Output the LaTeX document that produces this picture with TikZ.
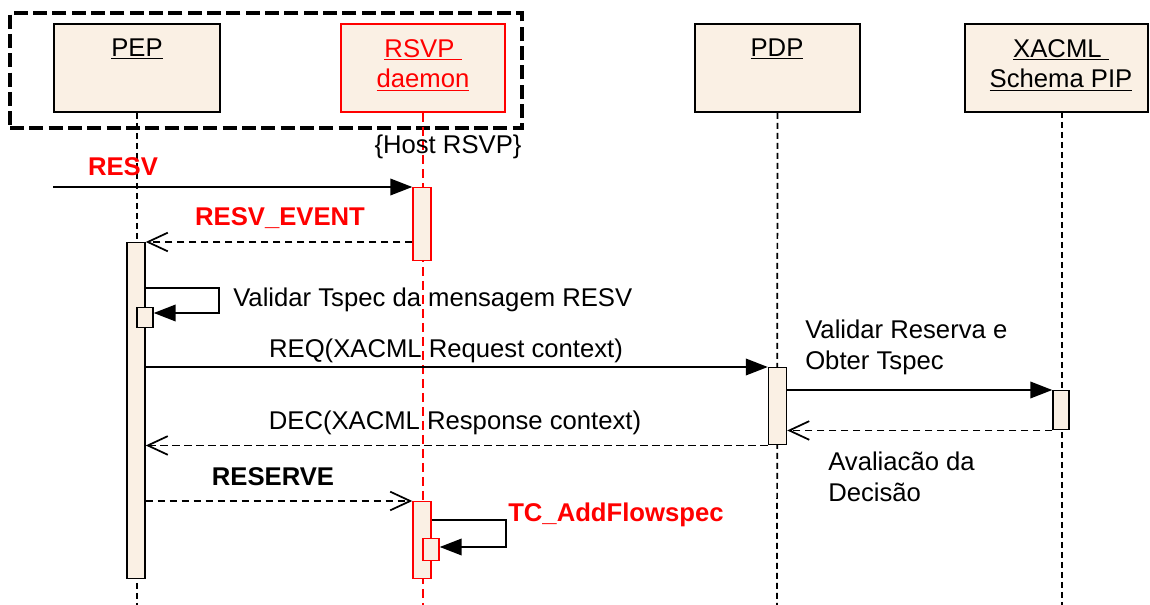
\documentclass[tikz,border=0pt]{standalone}
\usepackage{fontspec}
\setmainfont{Liberation Sans}
\usetikzlibrary{arrows.meta}
\definecolor{beige}{RGB}{250,240,228}
\definecolor{rred}{RGB}{255,0,0}
\tikzset{
  txt/.style={font=\fontsize{19.25pt}{23pt}\selectfont, inner sep=0pt},
  objbox/.style={draw=black, fill=beige, line width=1.4pt, minimum height=66pt, inner sep=0pt},
  redbox/.style={objbox, draw=rred},
  groupbox/.style={draw=black, line width=3pt, dash pattern=on 10.5pt off 4pt, minimum width=384pt, minimum height=86.25pt, inner sep=0pt},
  act/.style={draw=black, fill=beige, line width=1.1pt, minimum width=13.5pt, anchor=north, inner sep=0pt},
  redact/.style={act, draw=rred},
  lifeline/.style={draw=black, line width=1.3pt, dash pattern=on 4.5pt off 3pt},
  redlifeline/.style={draw=rred, line width=1.3pt, dash pattern=on 7pt off 3.5pt},
  callmsg/.style={draw=black, line width=1.2pt, -{Triangle[length=16.5pt,width=12.5pt]}},
  retmsg/.style={draw=black, line width=1.3pt, dash pattern=on 5.5pt off 3.5pt, -{Straight Barb[length=15pt,width=14pt]}},
  redlbl/.style={txt, text=rred, font=\fontsize{19.25pt}{23pt}\selectfont\bfseries},
}
\begin{document}
\begin{tikzpicture}[x=0.75pt,y=-0.75pt]
\useasboundingbox (0,0) rectangle (1150,605);

% object boxes
\node[objbox, minimum width=124.5pt] (pep) at (137,68) {};
\node[redbox, minimum width=123pt] (rsvp) at (423,68) {};
\node[objbox, minimum width=123.75pt] (pdp) at (777.5,68) {};
\node[objbox, minimum width=137.25pt] (pip) at (1056.5,68) {};
\node[groupbox] (host) at (266,70.5) {};

\node[txt] (peplbl) at (137,49) {\underline{PEP}};
\node[txt, text=rred, align=center] (rsvplbl) at (423,65) {\underline{RSVP\ }\\\underline{daemon}};
\node[txt] (pdplbl) at (777,49) {\underline{PDP}};
\node[txt, align=center] (piplbl) at (1061,65) {\underline{XACML\ }\\\underline{Schema PIP}};

% lifeline ends
\coordinate (pepend) at (137,605);
\coordinate (rsvpend) at (423,605);
\coordinate (pdpend) at (777,605);
\coordinate (piptop) at (1062,112);
\coordinate (pipend) at (1062,605);

\draw[lifeline] (pep.south) -- (pepend);
\draw[redlifeline] (rsvp.south) -- (rsvpend);
\draw[lifeline] (pdp.south) -- (pdpend);
\draw[lifeline] (piptop) -- (pipend);

\node[txt] (hostlbl) at (448,147) {\{Host RSVP\}};

% activations
\node[redact, minimum height=54.75pt] (ra1) at (422,187) {};
\node[act, minimum height=252pt] (pa1) at (136,242) {};
\node[act, minimum width=12pt, minimum height=15pt] (pn1) at (145,307) {};
\node[act, minimum height=57.75pt] (da1) at (777.5,367) {};
\node[act, minimum width=12pt, minimum height=29.25pt] (xa1) at (1061,390) {};
\node[redact, minimum height=57.75pt] (ra2) at (422,501) {};
\node[redact, minimum width=12pt, minimum height=16.5pt] (rn2) at (431,538) {};

% RESV
\coordinate (resvstart) at (53,187);
\draw[callmsg] (resvstart) -- (ra1.north west);
\node[redlbl] (resvlbl) at (123,167) {RESV};

% RESV_EVENT
\draw[retmsg] (ra1.west |- pa1.north) -- (pa1.north east);
\node[redlbl] (evlbl) at (280,218) {RESV\_EVENT};

% self message 1
\coordinate (s1a) at (219,288);
\coordinate (s1b) at (219,313);
\draw[callmsg] (pa1.east |- s1a) -- (s1a) -- (s1b) -- (pn1.east |- s1b);
\node[txt, anchor=west] (vlbl) at (233,300) {Validar Tspec da mensagem RESV};

% REQ
\draw[callmsg] (pa1.east |- da1.north) -- (da1.north west);
\node[txt] (reqlbl) at (446,351) {REQ(XACML Request context)};

% PDP -> PIP
\draw[callmsg] (da1.east |- xa1.north) -- (xa1.north west);
\node[txt, anchor=west, align=left] (vrlbl) at (805,347.5) {Validar Reserva e\\Obter Tspec};
\draw[retmsg] (xa1.south west) -- (da1.east |- xa1.south);
\node[txt, anchor=west, align=left] (avlbl) at (828,476.5) {Avaliacão da\\Decisão};

% DEC
\draw[retmsg] (da1.south west) -- (pa1.east |- da1.south);
\node[txt] (declbl) at (455,423) {DEC(XACML Response context)};

% RESERVE
\draw[retmsg] (pa1.east |- ra2.north) -- (ra2.north west);
\node[txt, font=\fontsize{19.25pt}{23pt}\selectfont\bfseries] (reslbl) at (273,477) {RESERVE};

% self message 2
\coordinate (s2a) at (506,520);
\coordinate (s2b) at (506,547);
\draw[callmsg] (ra2.east |- s2a) -- (s2a) -- (s2b) -- (rn2.east |- s2b);
\node[redlbl, anchor=west] (tclbl) at (508,515) {TC\_AddFlowspec};
\end{tikzpicture}
\end{document}
